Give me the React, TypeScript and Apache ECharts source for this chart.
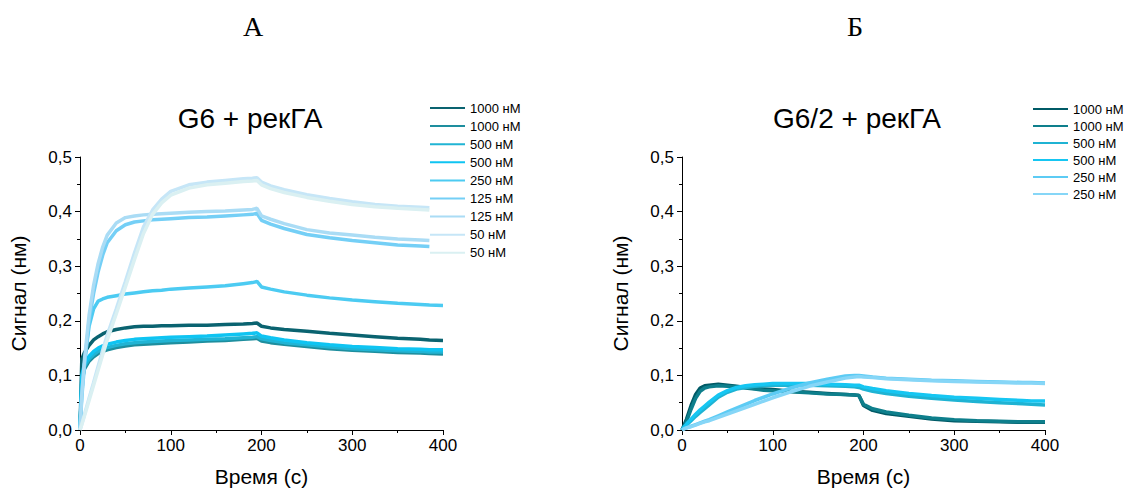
import React, { useEffect, useRef } from "react";
import * as echarts from "echarts";

// time points (s)
const TIMES = [0, 2, 5, 10, 15, 20, 25, 30, 40, 50, 60, 70, 80, 90, 100, 120, 140, 160, 180, 190, 195, 200, 210, 225, 250, 275, 300, 325, 350, 375, 385, 400];

// Panel A: G6 + рекГА
const A_LABELS = ["1000 нМ", "1000 нМ", "500 нМ", "500 нМ", "250 нМ", "125 нМ", "125 нМ", "50 нМ", "50 нМ"];
const A_COLORS = ["#0a6370", "#1e8e9e", "#21b4d4", "#0fc4f2", "#4ccbf2", "#74cff6", "#aadcf5", "#c6e6f7", "#daf0f2"];
const a1 = [0, 0.13, 0.142, 0.155, 0.165, 0.171, 0.176, 0.18, 0.184, 0.187, 0.189, 0.19, 0.19, 0.191, 0.191, 0.192, 0.192, 0.193, 0.194, 0.195, 0.196, 0.19, 0.187, 0.184, 0.181, 0.177, 0.174, 0.171, 0.168, 0.166, 0.165, 0.164];
const a2 = [0, 0.09, 0.112, 0.126, 0.134, 0.14, 0.144, 0.147, 0.151, 0.154, 0.156, 0.157, 0.158, 0.159, 0.16, 0.161, 0.163, 0.164, 0.166, 0.167, 0.168, 0.163, 0.16, 0.157, 0.153, 0.149, 0.146, 0.144, 0.142, 0.141, 0.14, 0.139];
const a3 = [0, 0.095, 0.117, 0.13, 0.138, 0.144, 0.148, 0.151, 0.155, 0.158, 0.16, 0.161, 0.162, 0.163, 0.164, 0.165, 0.166, 0.167, 0.169, 0.17, 0.171, 0.167, 0.164, 0.16, 0.156, 0.152, 0.149, 0.147, 0.145, 0.144, 0.143, 0.143];
const a4 = [0, 0.1, 0.122, 0.135, 0.144, 0.15, 0.154, 0.157, 0.161, 0.164, 0.166, 0.167, 0.168, 0.169, 0.17, 0.171, 0.172, 0.174, 0.176, 0.177, 0.178, 0.172, 0.169, 0.165, 0.16, 0.156, 0.153, 0.151, 0.149, 0.148, 0.147, 0.147];
const a5 = [0, 0.07, 0.125, 0.19, 0.222, 0.236, 0.24, 0.243, 0.246, 0.249, 0.251, 0.253, 0.255, 0.256, 0.258, 0.26, 0.262, 0.264, 0.268, 0.27, 0.272, 0.262, 0.258, 0.253, 0.247, 0.242, 0.238, 0.235, 0.232, 0.23, 0.229, 0.228];
const a6 = [0, 0.06, 0.12, 0.2, 0.25, 0.29, 0.32, 0.343, 0.365, 0.376, 0.381, 0.383, 0.385, 0.386, 0.387, 0.389, 0.39, 0.392, 0.394, 0.395, 0.397, 0.384, 0.377, 0.369, 0.358, 0.352, 0.347, 0.343, 0.339, 0.337, 0.336, null];
const a7 = [0, 0.065, 0.13, 0.21, 0.265, 0.305, 0.335, 0.357, 0.379, 0.389, 0.392, 0.394, 0.395, 0.396, 0.397, 0.399, 0.4, 0.401, 0.403, 0.404, 0.406, 0.392, 0.386, 0.378, 0.367, 0.361, 0.357, 0.353, 0.35, 0.348, 0.347, null];
const a8 = [0, 0.011, 0.029, 0.058, 0.087, 0.117, 0.146, 0.174, 0.222, 0.272, 0.324, 0.372, 0.403, 0.423, 0.437, 0.449, 0.454, 0.457, 0.46, 0.461, 0.462, 0.454, 0.447, 0.44, 0.431, 0.424, 0.418, 0.413, 0.41, 0.408, 0.407, null];
const a9 = [0, 0.01, 0.026, 0.054, 0.082, 0.11, 0.138, 0.165, 0.213, 0.262, 0.312, 0.36, 0.395, 0.416, 0.43, 0.443, 0.449, 0.452, 0.455, 0.456, 0.457, 0.449, 0.442, 0.435, 0.426, 0.419, 0.413, 0.409, 0.406, 0.404, 0.403, null];
const A_VALUES = [a1, a2, a3, a4, a5, a6, a7, a8, a9];

// Panel B: G6/2 + рекГА
const B_LABELS = ["1000 нМ", "1000 нМ", "500 нМ", "500 нМ", "250 нМ", "250 нМ"];
const B_COLORS = ["#005a66", "#0e7f8c", "#1fb3d3", "#16c6f2", "#5ccbf4", "#86d6f7"];
const b1 = [0, 0.008, 0.02, 0.045, 0.065, 0.077, 0.081, 0.082, 0.084, 0.082, 0.08, 0.078, 0.076, 0.075, 0.074, 0.071, 0.069, 0.067, 0.065, 0.064, 0.063, 0.045, 0.036, 0.03, 0.025, 0.02, 0.017, 0.016, 0.015, 0.014, 0.014, 0.014];
const b2 = [0, 0.006, 0.016, 0.038, 0.058, 0.071, 0.077, 0.079, 0.081, 0.08, 0.079, 0.077, 0.075, 0.073, 0.072, 0.07, 0.068, 0.066, 0.065, 0.064, 0.063, 0.047, 0.039, 0.033, 0.027, 0.022, 0.019, 0.017, 0.016, 0.015, 0.015, 0.015];
const b3 = [0, 0.004, 0.009, 0.017, 0.025, 0.032, 0.039, 0.046, 0.06, 0.069, 0.075, 0.078, 0.08, 0.081, 0.082, 0.082, 0.082, 0.081, 0.08, 0.079, 0.078, 0.075, 0.071, 0.067, 0.062, 0.058, 0.055, 0.052, 0.05, 0.048, 0.047, 0.046];
const b4 = [0, 0.005, 0.011, 0.02, 0.029, 0.037, 0.044, 0.051, 0.064, 0.072, 0.078, 0.081, 0.083, 0.084, 0.085, 0.085, 0.085, 0.084, 0.083, 0.082, 0.082, 0.079, 0.076, 0.072, 0.067, 0.063, 0.06, 0.058, 0.056, 0.054, 0.053, 0.053];
const b5 = [0, 0.002, 0.004, 0.007, 0.01, 0.013, 0.016, 0.019, 0.026, 0.033, 0.04, 0.047, 0.054, 0.06, 0.066, 0.077, 0.086, 0.093, 0.099, 0.1, 0.1, 0.099, 0.097, 0.095, 0.093, 0.091, 0.09, 0.089, 0.088, 0.087, 0.087, 0.086];
const b6 = [0, 0.002, 0.004, 0.006, 0.009, 0.012, 0.015, 0.017, 0.023, 0.029, 0.035, 0.041, 0.047, 0.053, 0.059, 0.07, 0.08, 0.088, 0.095, 0.097, 0.098, 0.097, 0.096, 0.094, 0.092, 0.09, 0.089, 0.088, 0.087, 0.086, 0.086, 0.085];
const B_VALUES = [b1, b2, b3, b4, b5, b6];

const X_TICKS = { min: 0, max: 400, interval: 100 };
const Y_TICKS = { min: 0, max: 0.5, interval: 0.1 };

const FONT = "'Liberation Sans', Arial, Helvetica, sans-serif";
const SERIF = "'Liberation Serif', 'Times New Roman', serif";

function makeAxes(gridIndex: number) {
  const x = {
    type: "value",
    gridIndex,
    min: X_TICKS.min,
    max: X_TICKS.max,
    interval: X_TICKS.interval,
    name: "Время (с)",
    nameLocation: "middle",
    nameGap: 36,
    nameTextStyle: { fontFamily: FONT, fontSize: 21, color: "#000" },
    axisLine: { show: true, onZero: false, lineStyle: { color: "#000", width: 1 } },
    axisTick: { show: true, inside: false, length: 5, lineStyle: { color: "#000" } },
    minorTick: { show: true, splitNumber: 2, length: 3, lineStyle: { color: "#000" } },
    splitLine: { show: false },
    axisLabel: { fontFamily: FONT, fontSize: 17, color: "#000", margin: 7 },
  };
  const y = {
    type: "value",
    gridIndex,
    min: Y_TICKS.min,
    max: Y_TICKS.max,
    interval: Y_TICKS.interval,
    name: "Сигнал (нм)",
    nameLocation: "middle",
    nameGap: 51,
    nameTextStyle: { fontFamily: FONT, fontSize: 21, color: "#000" },
    axisLine: { show: true, onZero: false, lineStyle: { color: "#000", width: 1 } },
    axisTick: { show: true, inside: false, length: 5, lineStyle: { color: "#000" } },
    minorTick: { show: true, splitNumber: 2, length: 3, lineStyle: { color: "#000" } },
    splitLine: { show: false },
    axisLabel: {
      fontFamily: FONT,
      fontSize: 17,
      color: "#000",
      margin: 8,
      formatter: (v: number) => v.toFixed(1).replace(".", ","),
    },
  };
  return { x, y };
}

function makeSeries(prefix: string, labels: string[], colors: string[], values: (number | null)[][], axisIndex: number) {
  return values.map((vals, i) => ({
    type: "line",
    name: `${labels[i]}|${prefix}${i}`,
    xAxisIndex: axisIndex,
    yAxisIndex: axisIndex,
    data: TIMES.map((t, k) => (vals[k] === null ? null : [t, vals[k]])).filter((p) => p !== null),
    showSymbol: false,
    symbol: "none",
    color: colors[i],
    lineStyle: { color: colors[i], width: 3.5 },
    emphasis: { disabled: true },
  }));
}

export default function App() {
  const ref = useRef<HTMLDivElement>(null);
  useEffect(() => {
    if (!ref.current) return;
    const chart = echarts.init(ref.current, undefined, { renderer: "svg" });
    const axA = makeAxes(0);
    const axB = makeAxes(1);
    const seriesA = makeSeries("a", A_LABELS, A_COLORS, A_VALUES, 0);
    const seriesB = makeSeries("b", B_LABELS, B_COLORS, B_VALUES, 1);
    const legendCommon = {
      orient: "vertical",
      itemWidth: 35,
      itemHeight: 2,
      icon: "rect",
      padding: 0,
      selectedMode: false,
      formatter: (name: string) => name.split("|")[0],
      textStyle: { fontFamily: FONT, fontSize: 13, color: "#000", lineHeight: 14 },
    };
    chart.setOption({
      animation: false,
      backgroundColor: "#fff",
      grid: [
        { left: 80, top: 157, width: 363, height: 273, containLabel: false, outerBoundsMode: "none" },
        { left: 682, top: 157, width: 363, height: 273, containLabel: false, outerBoundsMode: "none" },
      ],
      xAxis: [axA.x, axB.x],
      yAxis: [axA.y, axB.y],
      legend: [
        { ...legendCommon, left: 430, top: 101, itemGap: 4.1, data: seriesA.map((s) => s.name) },
        { ...legendCommon, left: 1033, top: 102, itemGap: 3, data: seriesB.map((s) => s.name) },
      ],
      graphic: [
        { type: "text", x: 253, y: 26, style: { text: "А", font: `28px ${SERIF}`, fill: "#000", align: "center", verticalAlign: "middle" } },
        { type: "text", x: 855, y: 26, style: { text: "Б", font: `28px ${SERIF}`, fill: "#000", align: "center", verticalAlign: "middle" } },
        { type: "text", x: 250, y: 118, style: { text: "G6 + рекГА", font: `28px ${FONT}`, fill: "#000", align: "center", verticalAlign: "middle" } },
        { type: "text", x: 857, y: 118, style: { text: "G6/2 + рекГА", font: `28px ${FONT}`, fill: "#000", align: "center", verticalAlign: "middle" } },
      ],
      series: [...seriesA, ...seriesB],
    });
    return () => chart.dispose();
  }, []);
  return (
    <div
      ref={ref}
      style={{ position: "absolute", left: 0, top: 0, width: 1126, height: 488, background: "#fff" }}
    />
  );
}
